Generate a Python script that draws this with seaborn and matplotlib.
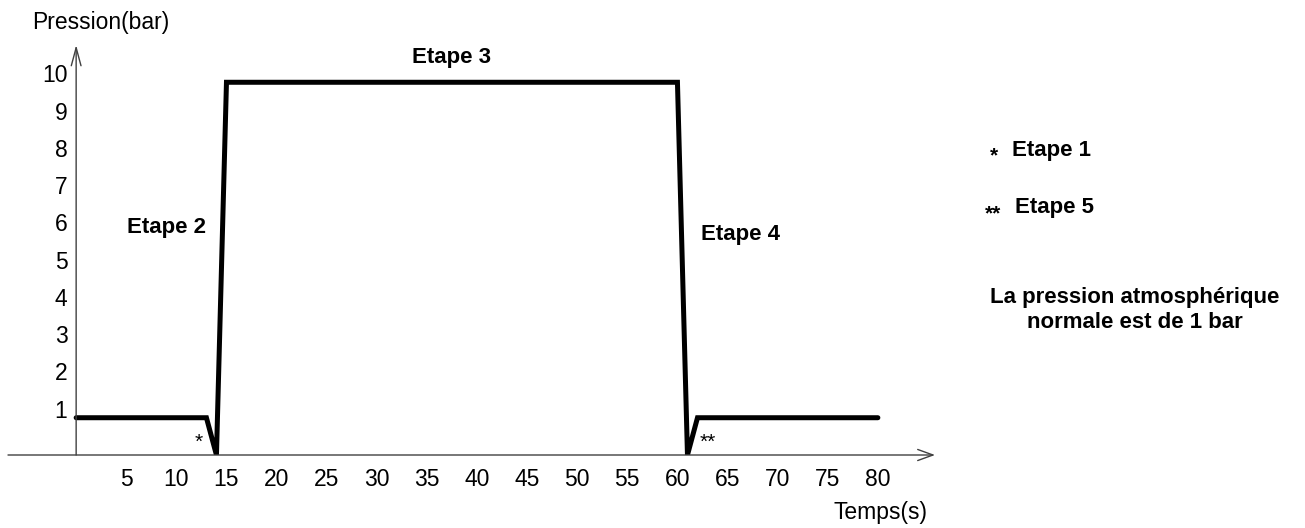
import matplotlib
matplotlib.use('Agg')
import matplotlib.pyplot as plt
import seaborn as sns

# pressure profile (time in s, pressure in bar)
temps = [0, 13, 14, 15, 60, 61, 62, 80]
pression = [1, 1, 0, 10, 10, 0, 1, 1]
xticks = [5, 10, 15, 20, 25, 30, 35, 40, 45, 50, 55, 60, 65, 70, 75, 80]
yticks = [1, 2, 3, 4, 5, 6, 7, 8, 9, 10]

sns.set_style('white')
plt.rcParams['font.family'] = ['Liberation Sans', 'DejaVu Sans']
plt.rcParams['text.color'] = 'black'

W, H = 1305, 528
fig = plt.figure(figsize=(W / 100, H / 100), dpi=100)
ax = fig.add_axes([8 / W, 73 / H, 927 / W, 410 / H])

sns.lineplot(x=temps, y=pression, ax=ax, color='black', linewidth=3.6,
             estimator=None, solid_joinstyle='miter', solid_capstyle='round')

ax.set_xlim(-6.8, 85.7)
ax.set_ylim(0, 11)

# axes drawn as arrows through the origin
for s in ax.spines.values():
    s.set_visible(False)
ax.spines['left'].set_position(('data', 0))
axis_col = '#404040'
ax.annotate('', xy=(85.7, 0), xytext=(-6.8, 0), annotation_clip=False,
            arrowprops=dict(arrowstyle='->,head_length=1.1,head_width=0.4',
                            lw=1, color=axis_col, shrinkA=0, shrinkB=0))
ax.annotate('', xy=(0, 11), xytext=(0, 0), annotation_clip=False,
            arrowprops=dict(arrowstyle='->,head_length=1.3,head_width=0.35',
                            lw=1, color=axis_col, shrinkA=0, shrinkB=0))

ax.set_xticks(xticks)
ax.set_yticks(yticks)
ax.tick_params(axis='x', direction='out', length=3.6, width=1, color=axis_col,
               pad=6, labelsize=16.5, labelcolor='black')
ax.tick_params(axis='y', direction='out', length=5.8, width=1, color=axis_col,
               pad=0.5, labelsize=16.5, labelcolor='black')
for lab in ax.get_yticklabels():
    lab.set_verticalalignment('baseline')
ax.grid(False)

# axis titles
fig.text(32 / W, 1 - 22 / H, 'Pression(bar)', fontsize=16.5, ha='left', va='center')
fig.text(927 / W, 1 - 512 / H, 'Temps(s)', fontsize=16.5, ha='right', va='center')

# stage labels
bold = dict(fontsize=16, fontweight='bold', ha='center', va='center')
ax.text(37.5, 10.67, 'Etape 3', **bold)
ax.text(9.0, 6.11, 'Etape 2', **bold)
ax.text(66.3, 5.92, 'Etape 4', **bold)
ax.text(12.2, 0.35, '*', fontsize=15, ha='center', va='center')
ax.text(63.0, 0.35, '**', fontsize=15, ha='center', va='center')

# side notes
fig.text(994 / W, 1 - 156 / H, '*', fontsize=15, fontweight='bold',
         ha='center', va='center')
fig.text(1012 / W, 1 - 150 / H, 'Etape 1', fontsize=16, fontweight='bold',
         ha='left', va='center')
fig.text(993 / W, 1 - 214 / H, '**', fontsize=15, fontweight='bold',
         ha='center', va='center')
fig.text(1015 / W, 1 - 207 / H, 'Etape 5', fontsize=16, fontweight='bold',
         ha='left', va='center')
fig.text(1135 / W, 1 - 310 / H, 'La pression atmosphérique\nnormale est de 1 bar',
         fontsize=16, fontweight='bold', ha='center', va='center',
         linespacing=1.2)

fig.savefig('out.png', dpi=100)
